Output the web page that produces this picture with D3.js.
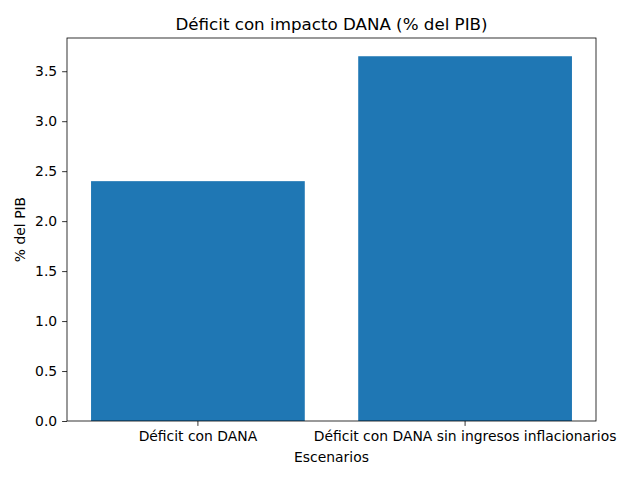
<!DOCTYPE html>
<html>
<head>
<meta charset="utf-8">
<script src="https://cdn.jsdelivr.net/npm/d3@7.9.0/dist/d3.min.js"></script>
<style>
  body { margin: 0; background: #fff; }
  svg { display: block; font-family: "DejaVu Sans", sans-serif; }
</style>
</head>
<body>
<div id="chart"></div>
<script>
const scenarios = ["Déficit con DANA", "Déficit con DANA sin ingresos inflacionarios"];
const deficit = [2.4, 3.65];
const yTicks = [0, 0.5, 1, 1.5, 2, 2.5, 3, 3.5];

const width = 640;
const height = 480;
const margin = { top: 38, right: 44, bottom: 59, left: 67 };
const fontSize = 13.9;

const svg = d3
  .select("#chart")
  .append("svg")
  .attr("width", width)
  .attr("height", height);

const xScale = d3
  .scaleBand()
  .domain(scenarios)
  .range([margin.left, width - margin.right])
  .paddingInner(0.2)
  .paddingOuter(0.09);

const yMax = d3.max(deficit) * 1.05;
const yScale = d3
  .scaleLinear()
  .domain([0, yMax])
  .range([height - margin.bottom, margin.top]);

// bars
svg
  .append("g")
  .selectAll("rect")
  .data(scenarios)
  .join("rect")
  .attr("x", (d) => xScale(d))
  .attr("width", xScale.bandwidth())
  .attr("y", (d, i) => yScale(deficit[i]))
  .attr("height", (d, i) => yScale(0) - yScale(deficit[i]))
  .attr("fill", "#1f77b4");

// axes
svg
  .append("g")
  .attr("transform", `translate(0, ${height - margin.bottom})`)
  .call(d3.axisBottom(xScale).tickSize(4.9).tickPadding(4.9).tickSizeOuter(0));

svg
  .append("g")
  .attr("transform", `translate(${margin.left}, 0)`)
  .call(
    d3.axisLeft(yScale)
      .tickValues(yTicks)
      .tickFormat(d3.format(".1f"))
      .tickSize(4.9)
      .tickPadding(4.9)
      .tickSizeOuter(0),
  );

svg.selectAll(".domain").remove();
svg.selectAll(".tick line").attr("stroke", "#000").attr("stroke-width", 0.8);
svg
  .selectAll(".tick text")
  .attr("fill", "#000")
  .style("font-family", "'DejaVu Sans', sans-serif")
  .style("font-size", fontSize + "px");

// frame
svg
  .append("rect")
  .attr("x", margin.left)
  .attr("y", margin.top)
  .attr("width", width - margin.left - margin.right)
  .attr("height", height - margin.top - margin.bottom)
  .attr("fill", "none")
  .attr("stroke", "#000")
  .attr("stroke-width", 0.8);

// labels
svg
  .append("text")
  .attr("x", (margin.left + width - margin.right) / 2)
  .attr("y", margin.top - 8)
  .attr("text-anchor", "middle")
  .style("font-size", "16.7px")
  .text("Déficit con impacto DANA (% del PIB)");

svg
  .append("text")
  .attr("x", (margin.left + width - margin.right) / 2)
  .attr("y", height - 18)
  .attr("text-anchor", "middle")
  .style("font-size", fontSize + "px")
  .text("Escenarios");

svg
  .append("text")
  .attr("transform", `translate(25, ${(margin.top + height - margin.bottom) / 2}) rotate(-90)`)
  .attr("text-anchor", "middle")
  .style("font-size", fontSize + "px")
  .text("% del PIB");
</script>
</body>
</html>
